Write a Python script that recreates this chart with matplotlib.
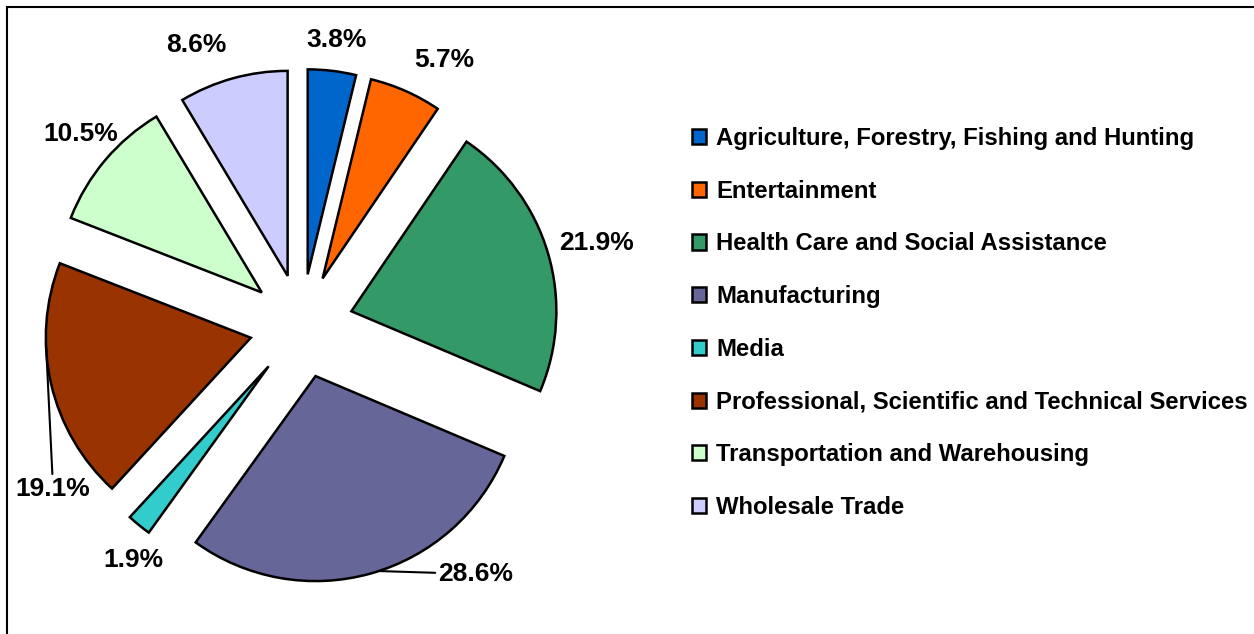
import numpy as np
import matplotlib.pyplot as plt
from matplotlib.patches import Rectangle

plt.rcParams['font.family'] = ['Liberation Sans', 'DejaVu Sans']
plt.rcParams['font.weight'] = 'bold'

# Data
sectors = ['Agriculture, Forestry, Fishing and Hunting', 'Entertainment',
           'Health Care and Social Assistance', 'Manufacturing', 'Media',
           'Professional, Scientific and Technical Services',
           'Transportation and Warehousing', 'Wholesale Trade']
shares = [3.8, 5.7, 21.9, 28.6, 1.9, 19.1, 10.5, 8.6]
colors = ['#0066CC', '#FF6600', '#339966', '#666699', '#33CCCC',
          '#993300', '#CCFFCC', '#CCCCFF']

# Layout (pixel units, y up)
W, H = 1254, 634
cx, cy = 301.5, 308
R = 205
gap = 52
# label placement: shift from slice mid-angle (deg, clockwise) and distance
lab_shift = [0.1, 4.3, 0.7, -19.4, -3.4, -20.2, 0.8, -5.1]
lab_dist = [288, 302, 307, 303, 288, 297, 292, 300]
leader_angle = {3: 162, 5: 269}

fig = plt.figure(figsize=(W / 100, H / 100), dpi=100)
ax = fig.add_axes([0, 0, 1, 1])

wedges, _ = ax.pie(shares, colors=colors, startangle=90, counterclock=False,
                   radius=R, center=(cx, cy), explode=[gap] * len(shares),
                   wedgeprops=dict(edgecolor='black', linewidth=1.8))

ax.set_xlim(0, W)
ax.set_ylim(0, H)
ax.set_aspect('equal')
ax.axis('off')

total = sum(shares)
start = 0.0
for i, (w, v) in enumerate(zip(wedges, shares)):
    mid = start + v / total * 180
    start += v / total * 360
    a = np.radians(mid + lab_shift[i])
    tx = cx + lab_dist[i] * np.sin(a)
    ty = cy + lab_dist[i] * np.cos(a)
    txt = f'{v:.1f}%'
    if i in leader_angle:
        b = np.radians(leader_angle[i])
        wx, wy = w.center
        ax.annotate(txt, xy=(wx + R * np.sin(b), wy + R * np.cos(b)),
                    xytext=(tx, ty), ha='center', va='center', fontsize=19,
                    fontweight='bold',
                    arrowprops=dict(arrowstyle='-', color='black', lw=1.5,
                                    shrinkA=0, shrinkB=0))
    else:
        ax.text(tx, ty, txt, ha='center', va='center', fontsize=19,
                fontweight='bold')

ax.legend(wedges, sectors, loc='center left', bbox_to_anchor=(692 / W, 0.4906),
          bbox_transform=fig.transFigure, frameon=False, fontsize=17.2,
          handlelength=0.6, handleheight=0.6, handletextpad=0.42,
          labelspacing=1.245, borderpad=0, borderaxespad=0)

# outer frame
ax.add_patch(Rectangle((7, -20), W + 20, H - 7 + 20, fill=False,
                       edgecolor='black', linewidth=1.5, clip_on=False))

fig.savefig('out.png', dpi=100)
